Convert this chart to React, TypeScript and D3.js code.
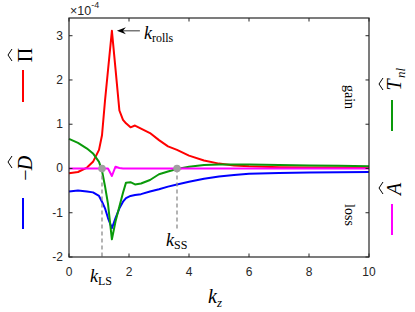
import React from "react";
import * as d3 from "d3";

// wavenumber grid (shared by all four series)
const kz = [0, 0.3, 0.6, 0.8, 1.0, 1.1, 1.2, 1.3, 1.43, 1.55, 1.68, 1.8, 1.9, 2.05, 2.2, 2.4, 2.7, 3.0, 3.3, 3.6, 4.0, 4.5, 5.0, 5.5, 6, 7, 8, 9, 10];

// values in units of 1e-4
const piHat = [-0.11, -0.08, 0.02, 0.15, 0.42, 0.75, 1.53, 2.22, 3.11, 2.25, 1.31, 1.1, 1.02, 0.93, 0.97, 0.9, 0.8, 0.64, 0.5, 0.42, 0.29, 0.18, 0.11, 0.07, 0.05, 0.03, 0.02, 0.02, 0.015];
const minusD = [-0.52, -0.5, -0.52, -0.54, -0.62, -0.75, -0.9, -1.12, -1.35, -1.12, -0.9, -0.75, -0.67, -0.62, -0.6, -0.58, -0.52, -0.47, -0.41, -0.36, -0.3, -0.23, -0.18, -0.15, -0.12, -0.1, -0.09, -0.085, -0.08];
const tnl = [0.67, 0.58, 0.45, 0.34, 0.15, -0.05, -0.4, -0.8, -1.6, -1.2, -0.86, -0.55, -0.32, -0.31, -0.36, -0.34, -0.26, -0.13, -0.07, -0.01, 0.04, 0.08, 0.09, 0.09, 0.09, 0.08, 0.07, 0.06, 0.05];
const aHat = [0, 0, 0, 0, 0, 0, 0, 0, -0.17, 0.04, 0.01, 0, 0, 0, 0, 0, 0, 0, 0, 0, 0, 0, 0, 0, 0, 0, 0, 0, 0];

const xTicks = [0, 2, 4, 6, 8, 10];
const yTicks = [-2, -1, 0, 1, 2, 3];

const kLS = 1.1;
const kSS = 3.6;
const kRolls = 1.43;
const rollsPeak = 3.11;
const ssDashEnd = -1.4;

const axisColor = "#262626";
const sans = "'Liberation Sans', Arial, sans-serif";
const serif = "'Liberation Serif', 'DejaVu Serif', serif";

const Hat = ({ cx, cy, w = 6 }: { cx: number; cy: number; w?: number }) => (
  <path d={`M${cx - w},${cy + 4} L${cx},${cy} L${cx + w},${cy + 4}`} fill="none" stroke="black" strokeWidth={1} />
);

export default function App() {
  const x = d3.scaleLinear().domain([0, 10]).range([69, 369]);
  const y = d3.scaleLinear().domain([-2, 3.4]).range([257, 18]);

  const mk = (vals: number[]) =>
    d3.line<number>().x((_, i) => x(kz[i])).y((d) => y(d))(vals) || "";

  const series = [
    { vals: piHat, color: "#ff0000" },
    { vals: minusD, color: "#0000ff" },
    { vals: tnl, color: "#0a9a0a" },
    { vals: aHat, color: "#ff00ff" },
  ];

  const [x0, x1] = x.range();
  const [yb, yt] = y.range();

  return (
    <div style={{ position: "absolute", left: 0, top: 0 }}>
      <svg width={415} height={312} style={{ display: "block", background: "white" }}>
        {/* curves */}
        {series.map((s, i) => (
          <path key={i} d={mk(s.vals)} fill="none" stroke={s.color} strokeWidth={2} strokeLinejoin="round" />
        ))}

        {/* dashed markers */}
        <line x1={x(kLS)} x2={x(kLS)} y1={y(0)} y2={y(-2)} stroke="#8c8c8c" strokeWidth={1.3} strokeDasharray="4,3" />
        <line x1={x(kSS)} x2={x(kSS)} y1={y(0)} y2={y(ssDashEnd)} stroke="#8c8c8c" strokeWidth={1.3} strokeDasharray="4,3" />
        <circle cx={x(kLS)} cy={y(0)} r={3.8} fill="#a0a0a0" />
        <circle cx={x(kSS)} cy={y(0)} r={3.8} fill="#a0a0a0" />

        {/* axes box */}
        <rect x={x0} y={yt} width={x1 - x0} height={yb - yt} fill="none" stroke={axisColor} strokeWidth={1.2} />
        {xTicks.map((t) => (
          <g key={"x" + t}>
            <line x1={x(t)} x2={x(t)} y1={yb} y2={yb - 3.5} stroke={axisColor} />
            <line x1={x(t)} x2={x(t)} y1={yt} y2={yt + 3.5} stroke={axisColor} />
            <text x={x(t)} y={276} textAnchor="middle" fontFamily={sans} fontSize={12} fill={axisColor}>
              {t}
            </text>
          </g>
        ))}
        {yTicks.map((t) => (
          <g key={"y" + t}>
            <line x1={x0} x2={x0 + 3.5} y1={y(t)} y2={y(t)} stroke={axisColor} />
            <line x1={x1} x2={x1 - 3.5} y1={y(t)} y2={y(t)} stroke={axisColor} />
            <text x={63} y={y(t) + 4} textAnchor="end" fontFamily={sans} fontSize={12} fill={axisColor}>
              {t}
            </text>
          </g>
        ))}
        <text x={70} y={15} fontFamily={sans} fontSize={12.5} fill={axisColor}>
          ×10
          <tspan fontSize={9} dy={-7}>-4</tspan>
        </text>

        {/* k_rolls arrow */}
        <line x1={x(kRolls) + 8} x2={x(kRolls) + 28} y1={y(rollsPeak)} y2={y(rollsPeak)} stroke="black" strokeWidth={0.8} />
        <path
          d={`M${x(kRolls) + 5},${y(rollsPeak)} L${x(kRolls) + 14},${y(rollsPeak) - 3.5} L${x(kRolls) + 11},${y(rollsPeak)} L${x(kRolls) + 14},${y(rollsPeak) + 3.5} Z`}
          fill="black"
        />
        <text x={x(kRolls) + 32} y={y(rollsPeak) + 8} fontFamily={serif} fontSize={18}>
          <tspan fontStyle="italic">k</tspan>
          <tspan fontSize={12} dy={3}>rolls</tspan>
        </text>

        {/* k_LS, k_SS, k_z */}
        <text x={x(kLS) - 12} y={282} fontFamily={serif} fontSize={18}>
          <tspan fontStyle="italic">k</tspan>
          <tspan fontSize={12} dy={3}>LS</tspan>
        </text>
        <text x={x(kSS) - 11} y={246} fontFamily={serif} fontSize={18}>
          <tspan fontStyle="italic">k</tspan>
          <tspan fontSize={12} dy={3}>SS</tspan>
        </text>
        <text x={208} y={303} fontFamily={serif} fontSize={20}>
          <tspan fontStyle="italic">k</tspan>
          <tspan fontStyle="italic" fontSize={13} dy={4}>z</tspan>
        </text>

        {/* left legend labels */}
        <g transform="translate(32,55) rotate(-90)">
          <text x={0} y={0} textAnchor="middle" fontFamily={serif} fontSize={20}>Π</text>
          <Hat cx={0} cy={-24} />
        </g>
        <line x1={23} x2={23} y1={70} y2={102} stroke="#ff0000" strokeWidth={2} />
        <g transform="translate(32,168) rotate(-90)">
          <text x={-7} y={0} textAnchor="middle" fontFamily={serif} fontSize={20}>−</text>
          <text x={5} y={0} textAnchor="middle" fontFamily={serif} fontSize={20} fontStyle="italic">D</text>
          <Hat cx={6} cy={-24} />
        </g>
        <line x1={23} x2={23} y1={198} y2={229} stroke="#0000ff" strokeWidth={2} />

        {/* right legend labels */}
        <g transform="translate(401,84) rotate(-90)">
          <text x={-1} y={0} textAnchor="middle" fontFamily={serif} fontSize={20} fontStyle="italic">T</text>
          <text x={6} y={4} fontFamily={serif} fontSize={13} fontStyle="italic">nl</text>
          <Hat cx={0} cy={-22} />
        </g>
        <line x1={392} x2={392} y1={100} y2={131} stroke="#0a9a0a" strokeWidth={2} />
        <g transform="translate(401,189) rotate(-90)">
          <text x={0} y={0} textAnchor="middle" fontFamily={serif} fontSize={20} fontStyle="italic">A</text>
          <Hat cx={1} cy={-22} />
        </g>
        <line x1={392} x2={392} y1={204} y2={235} stroke="#ff00ff" strokeWidth={2} />

        {/* gain / loss */}
        <text transform="translate(345,97) rotate(90)" textAnchor="middle" fontFamily={serif} fontSize={14}>gain</text>
        <text transform="translate(345,215) rotate(90)" textAnchor="middle" fontFamily={serif} fontSize={14}>loss</text>
      </svg>
    </div>
  );
}
